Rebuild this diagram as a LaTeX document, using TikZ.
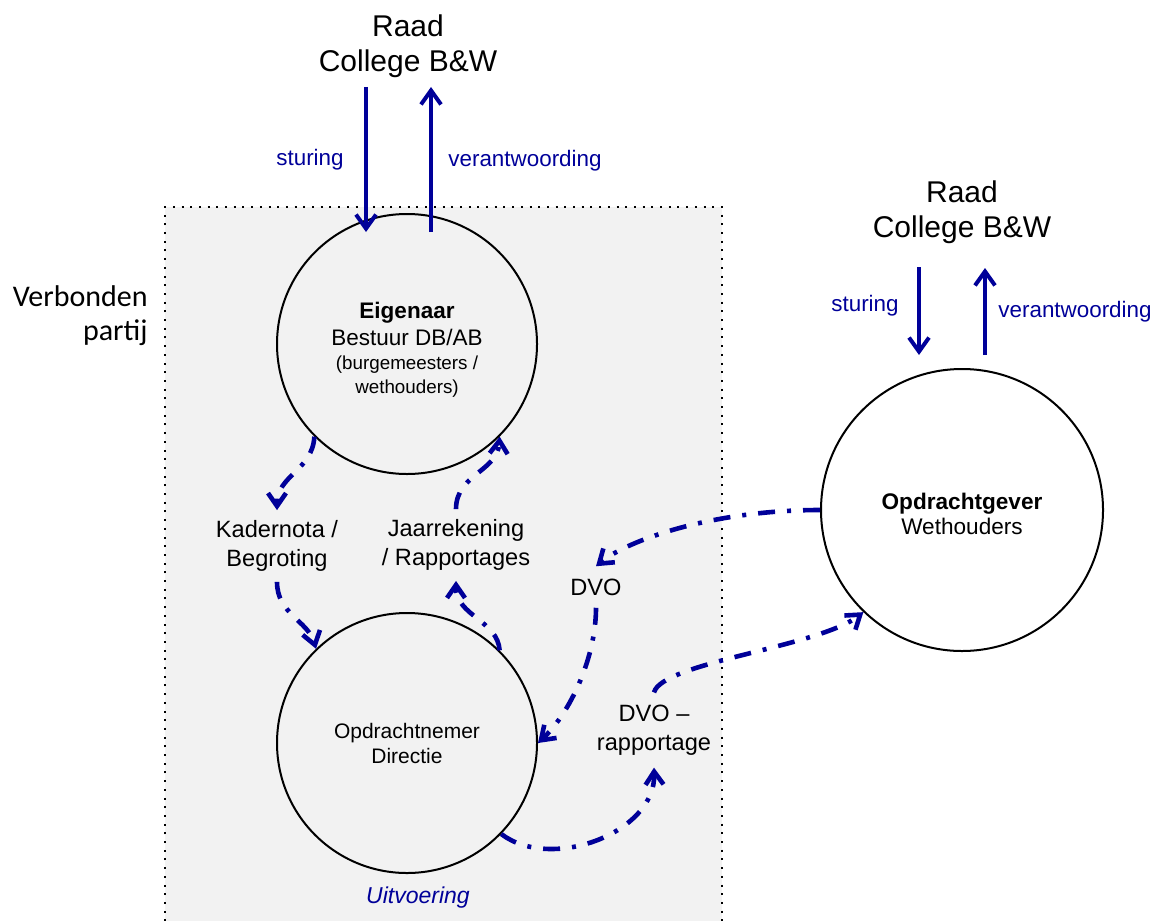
\documentclass[tikz,border=0pt]{standalone}
\usepackage{fontspec}
\setmainfont{Liberation Sans}
\newfontfamily\calibri{Carlito}
\usetikzlibrary{arrows.meta,calc}
\definecolor{dblue}{RGB}{0,0,153}
\definecolor{panel}{RGB}{242,242,242}
\begin{document}
\begin{tikzpicture}[x=0.5pt,y=-0.5pt,
  circ/.style={circle,draw=black,line width=1pt,minimum size=130pt,inner sep=0pt,align=center},
  flow/.style={draw=dblue,line width=2.3pt,dash pattern=on 8.5pt off 6pt on 2pt off 6pt,
    -{Straight Barb[length=6.5pt,width=9pt,line width=2.3pt]}},
  bar/.style={draw=dblue,line width=2pt,-{Straight Barb[length=7pt,width=10pt,line width=2pt]}},
  head/.style={font=\fontsize{15}{17.5}\selectfont,align=center,inner sep=0pt},
  blbl/.style={text=dblue,font=\fontsize{11.2}{13}\selectfont,inner sep=0pt},
  lbl/.style={font=\fontsize{11.8}{14.5}\selectfont,align=center,inner sep=5pt},
  border/.style={draw=black,line width=1pt,dash pattern=on 1pt off 3.35pt}
]
\useasboundingbox (0,0) rectangle (1159,920);
% panel
\fill[panel] (165,207) rectangle (722,930);
\draw[border] (165,930) -- (165,207) -- (722,207) -- (722,930);

% headers
\node[head] (raad1) at (408,46) {Raad\\College B\&W};
\node[head] (raad2) at (962,212) {Raad\\College B\&W};

\node[blbl] (st1) at (310,160) {sturing};
\node[blbl] (vw1) at (525,161) {verantwoording};
\node[blbl] (st2) at (865,306) {sturing};
\node[blbl] (vw2) at (1075,312) {verantwoording};

\node[font=\calibri\fontsize{15}{17}\selectfont,align=right,anchor=east,inner sep=0pt] (verb) at (148,316) {Verbonden\\partij};

% circles
\node[circ,font=\fontsize{11.25}{12}\selectfont] (eig) at (407,344)
  {\rule{0pt}{14pt}{\bfseries Eigenaar}\\[1.5pt]Bestuur DB/AB\\{\fontsize{9.4}{12}\selectfont (burgemeesters /}\\{\fontsize{9.4}{12}\selectfont wethouders)}};
\node[circ,font=\fontsize{10.5}{12.5}\selectfont] (nem) at (407,743) {Opdrachtnemer\\Directie};
\node[circ,minimum size=141pt,font=\fontsize{11.3}{12.75}\selectfont] (gev) at (962,510) {\rule{0pt}{12pt}{\bfseries Opdrachtgever}\\Wethouders};

% labels
\node[lbl] (kad) at (277,546) {Kadernota /\\Begroting};
\node[lbl] (jaar) at (456,545) {Jaarrekening\\/ Rapportages};
\node[lbl,inner sep=6pt] (dvo) at (596,587) {DVO};
\node[lbl,inner sep=6pt] (dvor) at (654,730) {DVO --\\rapportage};
\node[text=dblue,font=\itshape\fontsize{11.5}{13}\selectfont,inner sep=0pt] (uitv) at (418,898) {Uitvoering};

% solid arrows
\coordinate (a1t) at (366,87);  \coordinate (a1b) at (366,232);
\coordinate (a2t) at (431,87);  \coordinate (a2b) at (431,232);
\coordinate (a3t) at (919,267); \coordinate (a3b) at (919,355);
\coordinate (a4t) at (985,268); \coordinate (a4b) at (985,355);
\draw[bar] (a1t) -- (a1b);
\draw[bar] (a2b) -- (a2t);
\draw[bar] (a3t) -- (a3b);
\draw[bar] (a4b) -- (a4t);

% dash-dot flows
\draw[flow] (eig.225) .. controls +(-2,34) and +(0,-35) .. (kad.north);
\draw[flow] (kad.south) .. controls +(0,32) and +(-8,-28) .. (nem.134);
\draw[flow] (nem.45) .. controls +(-2,-30) and +(0,35) .. (jaar.south);
\draw[flow] (jaar.north) .. controls +(0,-35) and +(-2,35) .. (eig.315);
\draw[flow] (gev.west) .. controls +(-110,0) and +(30,-25) .. (dvo.north);
\draw[flow] (dvo.south) .. controls +(0,50) and +(32,-30) .. (nem.east);
\draw[flow] (dvor.north) .. controls +(8,-30) and +(-45,35) .. (gev.226);
\draw[flow] (nem.316) .. controls +(50,38) and +(2,65) .. (dvor.south);
\end{tikzpicture}
\end{document}
